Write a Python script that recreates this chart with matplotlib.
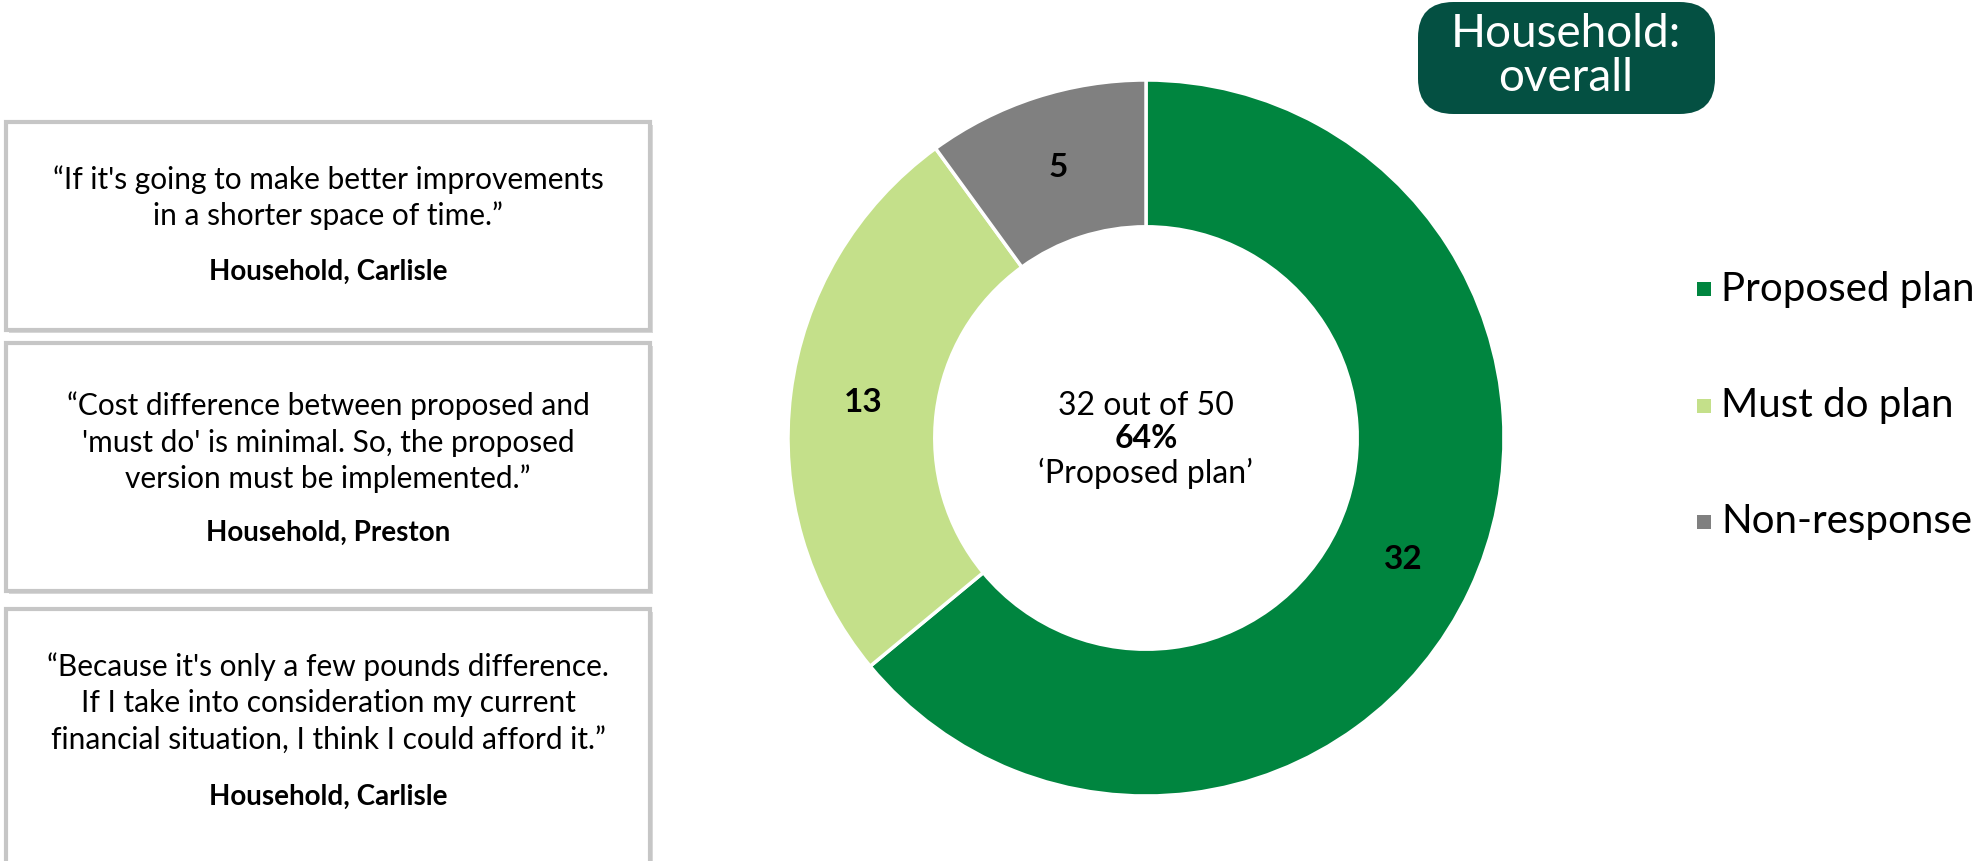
import matplotlib
matplotlib.use("Agg")
import matplotlib.pyplot as plt
from matplotlib.patches import Rectangle, FancyBboxPatch

# ---- data ----
categories = ["Proposed plan", "Must do plan", "Non-response"]
counts = [32, 13, 5]
colors = ["#00853F", "#C4E08A", "#808080"]
center_lines = ["32 out of 50", "64%", "\u2018Proposed plan\u2019"]
title_text = "Household:\noverall"
quotes = [
    ["\u201cIf it's going to make better improvements", "in a shorter space of time.\u201d"],
    ["\u201cCost difference between proposed and", "'must do' is minimal. So, the proposed", "version must be implemented.\u201d"],
    ["\u201cBecause it's only a few pounds difference.", "If I take into consideration my current", "financial situation, I think I could afford it.\u201d"],
]
attributions = ["Household, Carlisle", "Household, Preston", "Household, Carlisle"]

W, H = 1972, 861
FONT = "Lato"
plt.rcParams['font.family'] = [FONT, "DejaVu Sans"]
fig = plt.figure(figsize=(W / 100, H / 100), dpi=100)

def fx(x):
    return x / W

def fy(y):
    return 1 - y / H

# ---- donut ----
cx, cy, R = 1146, 438, 358
ax = fig.add_axes([fx(cx - R), fy(cy + R), 2 * R / W, 2 * R / H])
wedges, _, autotexts = ax.pie(
    counts, colors=colors, startangle=90, counterclock=False, radius=1,
    wedgeprops=dict(width=0.41, edgecolor="white", linewidth=2.5),
    autopct=lambda p: f"{round(p * sum(counts) / 100):d}", pctdistance=0.795,
    textprops=dict(fontsize=24, fontweight="bold", color="black"))
ax.set_xlim(-1, 1)
ax.set_ylim(-1, 1)
ax.set_aspect("equal")
ax.axis("off")

# center text
center_y = [406, 439, 473]
for i, (t, yy) in enumerate(zip(center_lines, center_y)):
    fig.text(fx(cx), fy(yy), t, ha="center", va="center", fontsize=23,
             fontweight="bold" if i == 1 else "normal")

# ---- title box ----
tb = FancyBboxPatch((fx(1418), fy(114)), fx(1715) - fx(1418), fy(2) - fy(114),
                    boxstyle="round,pad=0,rounding_size=0.018",
                    transform=fig.transFigure, facecolor="#045042", edgecolor="none",
                    mutation_aspect=W / H)
fig.add_artist(tb)
fig.text(fx(1566), fy(56), title_text, ha="center", va="center", fontsize=33,
         color="white", linespacing=1.05)

# ---- legend ----
leg_y = [289, 406, 522]
for cat, col, yy in zip(categories, colors, leg_y):
    fig.add_artist(Rectangle((fx(1697), fy(yy + 7)), 14 / W, 14 / H,
                             transform=fig.transFigure, facecolor=col, edgecolor="none"))
    fig.text(fx(1721), fy(yy), cat, ha="left", va="center", fontsize=29)

# ---- quote boxes ----
boxes = [(122, 330), (343, 591), (609, 875)]
line_ys = [[180, 216], [406, 443, 479], [667, 703, 740]]
attr_ys = [272, 533, 797]
bx0, bx1 = 6, 650
for (t0, t1), lines, lys, attr, ay in zip(boxes, quotes, line_ys, attributions, attr_ys):
    # shadow
    fig.add_artist(Rectangle((fx(bx0 + 3), fy(t1 + 3)), (bx1 - bx0) / W, (t1 - t0) / H,
                             transform=fig.transFigure, facecolor="#D9D9D9", edgecolor="none"))
    fig.add_artist(Rectangle((fx(bx0), fy(t1)), (bx1 - bx0) / W, (t1 - t0) / H,
                             transform=fig.transFigure, facecolor="white",
                             edgecolor="#C6C6C6", linewidth=3))
    for ln, yy in zip(lines, lys):
        fig.text(fx(328), fy(yy), ln, ha="center", va="center", fontsize=21.5)
    fig.text(fx(328), fy(ay), attr, ha="center", va="center", fontsize=20, fontweight="bold")

fig.savefig("out.png", dpi=100, facecolor="white")
